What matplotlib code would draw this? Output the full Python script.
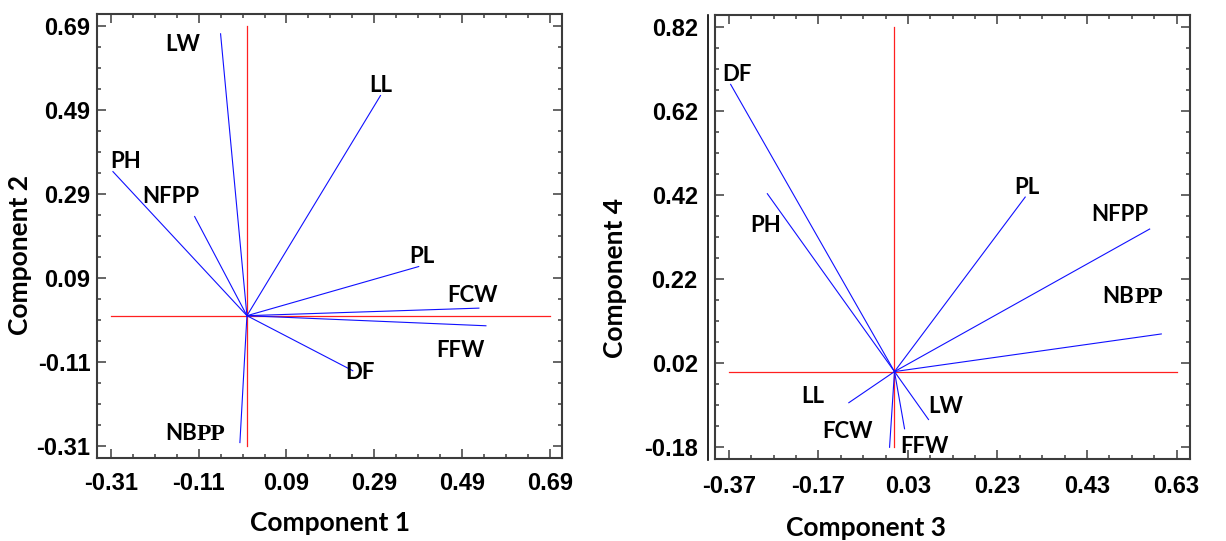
import matplotlib
matplotlib.use("Agg")
import matplotlib.pyplot as plt
import numpy as np
from matplotlib.ticker import MultipleLocator, FormatStrFormatter
from matplotlib.lines import Line2D

plt.rcParams["axes.unicode_minus"] = False
plt.rcParams["font.family"] = ["Liberation Sans", "DejaVu Sans"]
plt.rcParams["font.weight"] = "bold"

# variable loadings
variables = ["LW", "LL", "PH", "NFPP", "PL", "FCW", "FFW", "DF", "NBPP"]
comp1 = [-0.060, 0.304, -0.305, -0.119, 0.391, 0.528, 0.544, 0.241, -0.016]
comp2 = [0.671, 0.524, 0.343, 0.236, 0.117, 0.018, -0.024, -0.131, -0.302]
comp3 = [0.076, -0.102, -0.284, 0.570, 0.292, -0.011, 0.0225, -0.366, 0.596]
comp4 = [-0.114, -0.074, 0.423, 0.339, 0.415, -0.180, -0.136, 0.683, 0.0895]

# label offsets from the vector tips (pixels)
offsets_12 = {"LW": (-38, -11), "LL": (0, 10), "PH": (13, 10), "NFPP": (-24, 20),
              "PL": (3, 10), "FCW": (-6, 13), "FFW": (-25, -25), "DF": (7, -2),
              "NBPP": (-43, 3)}
offsets_34 = {"DF": (6, 10), "PH": (-2, -32), "PL": (2, 10), "NFPP": (-30, 15),
              "NBPP": (-27, 31), "LL": (-36, 6), "LW": (17, 13), "FCW": (-42, 16),
              "FFW": (20, -18)}

label_font = "Lato"
spine_col = "#3c3c3c"


def biplot(ax, xs, ys, offsets, xlim, ylim, xrng, yrng, xoff, yoff):
    # red reference axes through the origin
    ax.plot(xrng, [0, 0], color="#ff2020", lw=0.9, zorder=1)
    ax.plot([0, 0], yrng, color="#ff2020", lw=0.9, zorder=1)
    for name, x, y in zip(variables, xs, ys):
        ax.plot([0, x], [0, y], color="#1010ff", lw=0.8, zorder=2)
        dx, dy = offsets[name]
        if name == "NBPP":
            ax.annotate("NB", (x, y), xytext=(dx, dy), textcoords="offset pixels",
                        ha="right", va="baseline", fontsize=16, fontweight="bold",
                        family=label_font)
            ax.annotate("PP", (x, y), xytext=(dx, dy), textcoords="offset pixels",
                        ha="left", va="baseline", fontsize=17, fontweight="bold",
                        family="Liberation Serif")
        else:
            ax.annotate(name, (x, y), xytext=(dx, dy), textcoords="offset pixels",
                        ha="center", va="center", fontsize=16, fontweight="bold",
                        family=label_font)
    ax.set_xlim(*xlim)
    ax.set_ylim(*ylim)
    ax.xaxis.set_major_locator(MultipleLocator(0.2, offset=xoff))
    ax.yaxis.set_major_locator(MultipleLocator(0.2, offset=yoff))
    ax.xaxis.set_minor_locator(MultipleLocator(0.05, offset=xoff % 0.05))
    ax.yaxis.set_minor_locator(MultipleLocator(0.05, offset=yoff % 0.05))
    ax.xaxis.set_major_formatter(FormatStrFormatter("%.2f"))
    ax.yaxis.set_major_formatter(FormatStrFormatter("%.2f"))
    ax.tick_params(which="both", direction="in", top=True, right=True,
                   color=spine_col, width=1.1, labelsize=17)
    ax.tick_params(which="major", length=6.5)
    ax.tick_params(which="minor", length=3)
    for s in ax.spines.values():
        s.set_color(spine_col)
        s.set_linewidth(1.5)


fig = plt.figure(figsize=(12.26, 5.41), dpi=100)
ax1 = fig.add_axes([0.0794, 0.154, 0.3793, 0.820])
ax2 = fig.add_axes([0.5828, 0.151, 0.3878, 0.8213])

biplot(ax1, comp1, comp2, offsets_12, (-0.3405, 0.718), (-0.338, 0.718),
       [-0.31, 0.69], [-0.31, 0.69], 0.09, 0.09)
biplot(ax2, comp3, comp4, offsets_34, (-0.402, 0.66), (-0.2086, 0.848),
       [-0.37, 0.63], [-0.18, 0.82], 0.03, 0.02)

ax1.tick_params(axis="x", which="major", pad=10)
ax1.tick_params(axis="y", which="major", pad=5)
ax2.tick_params(axis="x", which="major", pad=11)
ax2.tick_params(axis="y", which="major", pad=12)

lab_kw = dict(fontsize=19, fontweight="bold", family=label_font)
ax1.set_xlabel("Component 1", **lab_kw)
ax1.set_ylabel("Component 2", **lab_kw)
ax2.set_xlabel("Component 3", **lab_kw)
ax2.set_ylabel("Component 4", **lab_kw)
ax1.xaxis.set_label_coords(0.5, -0.12)
ax1.yaxis.set_label_coords(-0.14, 0.457)
ax2.xaxis.set_label_coords(0.318, -0.127)
ax2.yaxis.set_label_coords(-0.184, 0.408)

# extra black rule left of the second panel
fig.add_artist(Line2D([708.3 / 1226, 708.3 / 1226], [1 - 15 / 541, 1 - 459.5 / 541],
                      color="black", lw=1.2))

fig.savefig("out.png", dpi=100)
